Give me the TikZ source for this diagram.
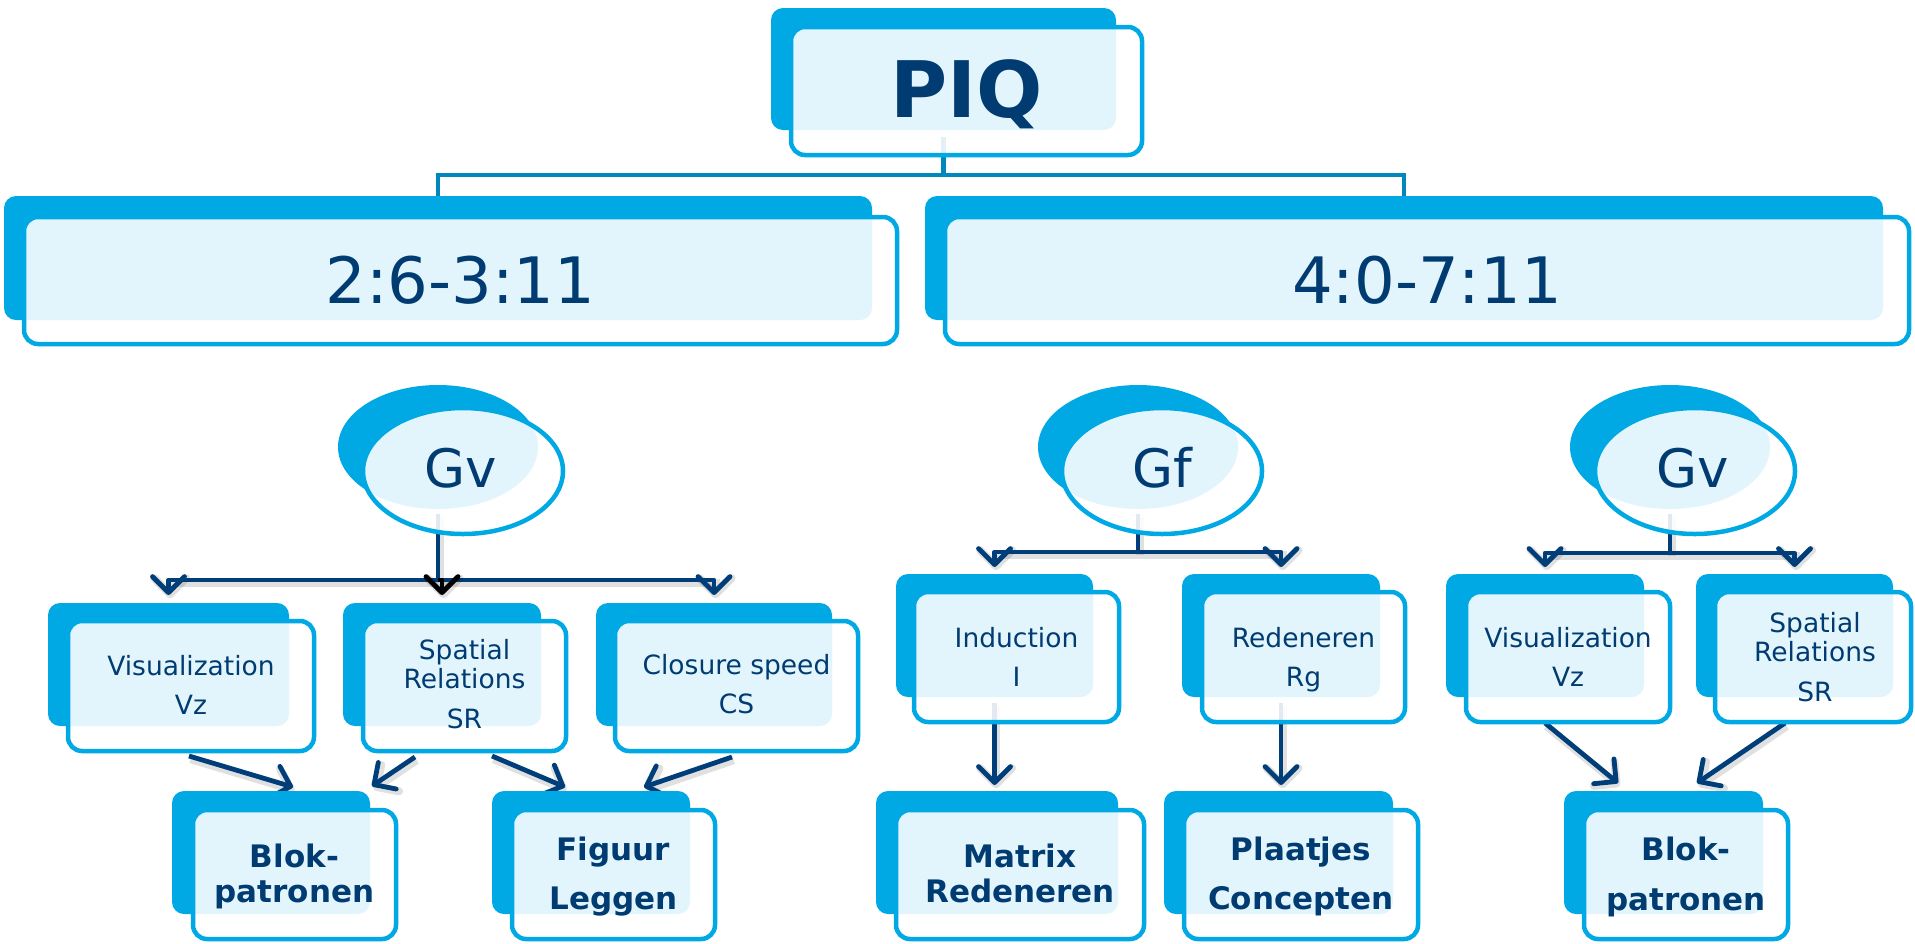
\documentclass[tikz,border=0pt]{standalone}
\usepackage{fontspec}
\setmainfont{DejaVu Sans}
\usetikzlibrary{arrows.meta,shapes.geometric,fit,calc,backgrounds}

\definecolor{skyfill}{RGB}{0,168,228}
\definecolor{inkblue}{RGB}{0,59,113}
\definecolor{linkteal}{RGB}{0,135,190}
\definecolor{arrowblue}{RGB}{0,62,122}

\tikzset{
  backbox/.style={fill=skyfill, rounded corners=6pt, inner sep=0pt, outer sep=0pt},
  frontbox/.style={draw=skyfill, line width=2.25pt, fill=white, fill opacity=0.89,
    rounded corners=7pt, inner sep=0pt, outer sep=0pt},
  backell/.style={ellipse, fill=skyfill, inner sep=0pt, outer sep=0pt,
    minimum width=100pt, minimum height=62pt},
  frontell/.style={ellipse, draw=skyfill, line width=2.25pt, fill=white, fill opacity=0.89,
    inner sep=0pt, outer sep=0pt, minimum width=100pt, minimum height=63pt},
  title/.style={text=inkblue, font=\fontsize{39pt}{44pt}\selectfont\bfseries, anchor=base, inner sep=0pt},
  agelbl/.style={text=inkblue, font=\fontsize{32pt}{36pt}\selectfont, anchor=base, inner sep=0pt},
  factor/.style={text=inkblue, font=\fontsize{26.5pt}{30pt}\selectfont, anchor=base, inner sep=0pt},
  ability/.style={text=inkblue, font=\fontsize{13.25pt}{14.5pt}\selectfont, align=center, inner sep=0pt},
  subtest/.style={text=inkblue, font=\fontsize{15.5pt}{17.5pt}\selectfont\bfseries, align=center, inner sep=0pt},
  tree/.style={draw=linkteal, line width=2.25pt},
  soft shadow/.style={preaction={draw=black, draw opacity=0.12, line width=4pt,
    transform canvas={shift={(0.8pt,-1.6pt)}}}},
  flowline/.style={draw=arrowblue, line width=2.2pt, soft shadow},
  flow/.style={draw=arrowblue, line width=2.4pt, line join=round,
    -{Straight Barb[length=8pt,width=16pt,line join=round,line cap=round]}, soft shadow},
}

\begin{document}
\begin{tikzpicture}[x=0.5pt,y=-0.5pt]
\useasboundingbox (0,0) rectangle (1915,943);

% ---- back plates ----
\node[backbox, fit={(771,8)(1116,130)}] (piqB) {};
\node[backbox, fit={(4,196)(872,320)}] (ageLB) {};
\node[backbox, fit={(925,196)(1883,320)}] (ageRB) {};
\node[backell] (gvLB) at (438,447) {};
\node[backell] (gfB) at (1138,447) {};
\node[backell] (gvRB) at (1670,447) {};
\node[backbox, fit={(48,603)(289,726)}] (vzLB) {};
\node[backbox, fit={(343,603)(541,726)}] (srLB) {};
\node[backbox, fit={(596,603)(832,726)}] (csLB) {};
\node[backbox, fit={(896,574)(1093,697)}] (indB) {};
\node[backbox, fit={(1182,574)(1380,697)}] (redB) {};
\node[backbox, fit={(1446,574)(1644,697)}] (vzRB) {};
\node[backbox, fit={(1696,574)(1893,697)}] (srRB) {};
\node[backbox, fit={(172,791)(370,914)}] (blokLB) {};
\node[backbox, fit={(492,791)(690,914)}] (figB) {};
\node[backbox, fit={(876,791)(1118,914)}] (matB) {};
\node[backbox, fit={(1164,791)(1393,914)}] (plaB) {};
\node[backbox, fit={(1564,791)(1763,914)}] (blokRB) {};

% ---- front frames ----
\node[frontbox, fit={(791,27)(1142,155)}] (piqF) {};
\node[frontbox, fit={(24,217)(897,344)}] (ageLF) {};
\node[frontbox, fit={(945,217)(1909,344)}] (ageRF) {};
\node[frontell] (gvLF) at (463,471) {};
\node[frontell] (gfF) at (1162,471) {};
\node[frontell] (gvRF) at (1695,471) {};
\node[frontbox, fit={(68,621)(314,751)}] (vzLF) {};
\node[frontbox, fit={(363,621)(566,751)}] (srLF) {};
\node[frontbox, fit={(615,621)(858,751)}] (csLF) {};
\node[frontbox, fit={(914,592)(1119,722)}] (indF) {};
\node[frontbox, fit={(1202,592)(1405,722)}] (redF) {};
\node[frontbox, fit={(1466,592)(1670,722)}] (vzRF) {};
\node[frontbox, fit={(1715,592)(1911,722)}] (srRF) {};
\node[frontbox, fit={(193,810)(396,939)}] (blokLF) {};
\node[frontbox, fit={(512,810)(715,939)}] (figF) {};
\node[frontbox, fit={(896,810)(1144,939)}] (matF) {};
\node[frontbox, fit={(1184,810)(1418,939)}] (plaF) {};
\node[frontbox, fit={(1584,810)(1788,939)}] (blokRF) {};

% ---- labels ----
\node[title] (piqT) at ($(piqF.center)+(0,26)$) {PIQ};
\node[agelbl] (ageLT) at ($(ageLF.center)+(0,22.5)$) {2:6-3:11};
\node[agelbl] (ageRT) at ($(ageRF.center)+(0,22.5)$) {4:0-7:11};
\node[factor] (gvLT) at ($(gvLF.center)+(-2,16)$) {Gv};
\node[factor] (gfT) at ($(gfF.center)+(0,16)$) {Gf};
\node[factor] (gvRT) at ($(gvRF.center)+(-2,16)$) {Gv};

\node[ability] (vzLT) at ($(vzLF.center)+(0,-1.5)$) {Visualization\\[5pt]Vz};
\node[ability] (srLT) at ($(srLF.center)+(0,-1.5)$) {Spatial\\Relations\\[5.5pt]SR};
\node[ability] (csLT) at ($(csLF.center)+(0,-1.5)$) {Closure speed\\[5pt]CS};
\node[ability] (indT) at (indF.center) {Induction\\[5pt]I};
\node[ability] (redT) at ($(redF.center)+(0,3)$) {Redeneren\\[5pt]Rg};
\node[ability] (vzRT) at (vzRF.center) {Visualization\\[5pt]Vz};
\node[ability] (srRT) at ($(srRF.center)+(2,0)$) {Spatial\\Relations\\[5.5pt]SR};

\node[subtest] (blokLT) at ($(blokLF.center)+(0,2)$) {Blok-\\patronen};
\node[subtest] (figT) at ($(figF.center)+(0,2)$) {Figuur\\[7pt]Leggen};
\node[subtest] (matT) at ($(matF.center)+(0,-1.5)$) {Matrix\\Redeneren};
\node[subtest] (plaT) at ($(plaF.center)+(0,2)$) {Plaatjes\\[7pt]Concepten};
\node[subtest] (blokRT) at ($(blokRF.center)+(0,2.5)$) {Blok-\\[7.5pt]patronen};

% ---- connectors, kept underneath the frames ----
\begin{pgfonlayer}{background}
  % PIQ splits into the two age bands
  \draw[tree] ($(piqB.south)+(0,7)$) -- ($(piqB.south)+(0,45)$);
  \draw[tree] (ageLB.north) |- ($(piqB.south)+(0,45)$) -| (ageRB.north);

  % Gv (2:6-3:11)
  \coordinate (gvLJ) at ($(gvLB.south)+(0,71)$);
  \draw[flowline] ($(gvLB.south)+(0,5)$) -- (gvLJ);
  \draw[flow] (gvLJ) -| ($(vzLB.north)+(0,-8)$);
  \draw[flow] (gvLJ) -| ($(csLB.north)+(0,-8)$);
  \draw[flow, draw=black] (gvLJ) -| ($(srLB.north)+(0,-8)$);

  % Gf
  \coordinate (gfJ) at ($(gfB.south)+(0,43)$);
  \draw[flowline] ($(gfB.south)+(0,5)$) -- (gfJ);
  \draw[flow] (gfJ) -| ($(indB.north)+(0,-7)$);
  \draw[flow] (gfJ) -| ($(redB.north)+(0,-7)$);

  % Gv (4:0-7:11)
  \coordinate (gvRJ) at ($(gvRB.south)+(0,44)$);
  \draw[flowline] ($(gvRB.south)+(0,5)$) -- (gvRJ);
  \draw[flow] (gvRJ) -| ($(vzRB.north)+(0,-7)$);
  \draw[flow] (gvRJ) -| ($(srRB.north)+(0,-7)$);

  % abilities to subtests
  \draw[flow] ($(vzLF.south)+(-2,5)$) -- ($(blokLB.north)+(22,-4)$);
  \draw[flow] ($(srLF.south)+(-49.5,6)$) -- ($(blokLB.north east)+(2,-5)$);
  \draw[flow] ($(srLF.south)+(27.5,5)$) -- ($(figB.north)+(-26,-4)$);
  \draw[flow] ($(csLF.south)+(-4.5,6)$) -- ($(figB.north)+(53,-4)$);
  \draw[flow] ($(indB.south)+(0,6)$) -- ($(indB.south |- matB.north)+(0,-6)$);
  \draw[flow] ($(redB.south)+(0,6)$) -- ($(redB.south |- plaB.north)+(0,-6)$);
  \draw[flow] ($(vzRF.south)+(-23,1)$) -- ($(blokRB.north)+(-45.5,-8)$);
  \draw[flow] ($(srRF.south)+(-28,1)$) -- ($(blokRB.north)+(33.5,-8)$);
\end{pgfonlayer}
\end{tikzpicture}
\end{document}
